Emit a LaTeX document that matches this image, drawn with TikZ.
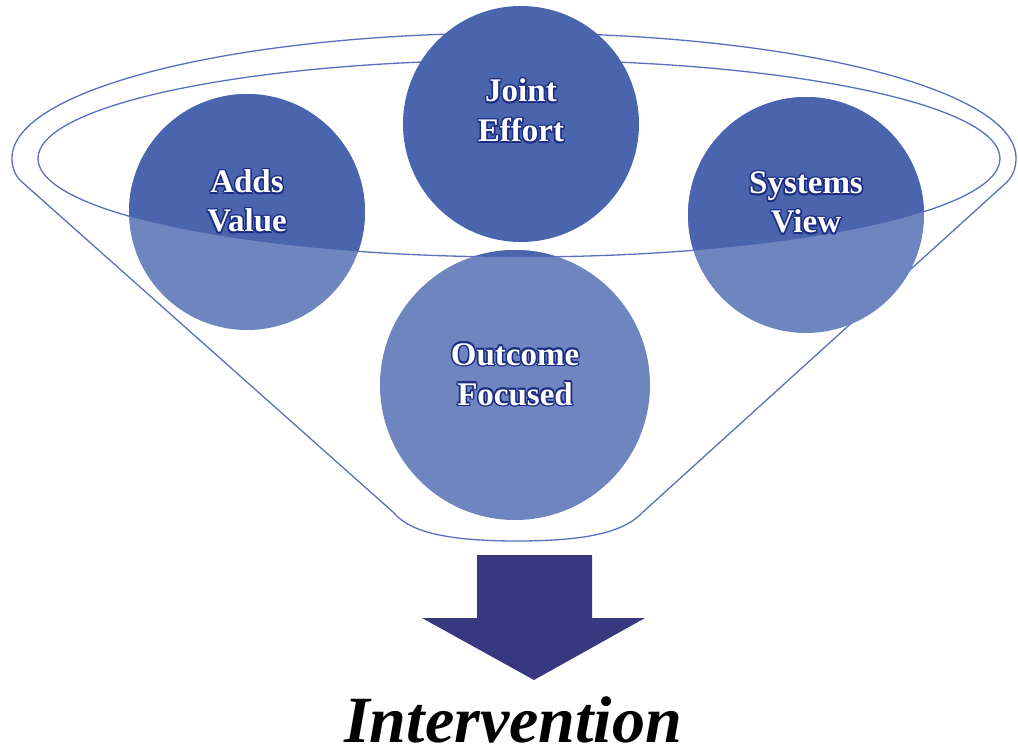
\documentclass[tikz,border=0pt]{standalone}
\usepackage{fontspec}
\setmainfont{Liberation Serif}
\definecolor{darkc}{HTML}{4A65AD}
\definecolor{lightc}{HTML}{6E85BF}
\definecolor{linec}{HTML}{5A6EBE}
\definecolor{arrowc}{HTML}{37387F}
\definecolor{glowc}{HTML}{1C2C82}
\newcommand\gcopy[3]{\makebox[0pt][l]{\hspace*{#1}\raisebox{#2}{\textcolor{glowc}{#3}}}}
\newcommand\glowtxt[1]{\gcopy{1.6pt}{0pt}{#1}\gcopy{-1.6pt}{0pt}{#1}\gcopy{0pt}{1.6pt}{#1}\gcopy{0pt}{-1.6pt}{#1}\gcopy{1.1pt}{1.1pt}{#1}\gcopy{-1.1pt}{1.1pt}{#1}\gcopy{1.1pt}{-1.1pt}{#1}\gcopy{-1.1pt}{-1.1pt}{#1}#1}
\tikzset{
  ball/.style={circle, inner sep=0pt, minimum size=#1, draw=none},
  lbl/.style={anchor=base, text=white, font=\fontsize{33}{38}\selectfont\bfseries, inner sep=0pt},
  outline/.style={draw=linec, line width=1.3pt},
}
\begin{document}
\begin{tikzpicture}[x=1pt,y=-1pt]
\useasboundingbox (0,0) rectangle (1018,746);
% funnel outline
\draw[outline, line join=round]
  (393,512) -- (22,182) .. controls (14,175) and (12,166) .. (12,158)
  arc[start angle=180, end angle=0, x radius=502pt, y radius=125pt]
  .. controls (1016,166) and (1014,175) .. (1007,182)
  -- (643,512) .. controls (626,530) and (594,541) .. (517,541)
  .. controls (440,541) and (408,530) .. (393,512) -- cycle;
% inner rim
\draw[outline] (519,158.5) ellipse[x radius=481pt, y radius=98.5pt];
% circles (lower, lighter parts)
\node[ball=236pt, fill=lightc] (av) at (247,212) {};
\node[ball=236pt, fill=lightc] (sv) at (806,215) {};
\node[ball=270pt, fill=lightc] (of) at (515,385) {};
% darker parts inside the rim
\begin{scope}
  \clip (519,158.5) ellipse[x radius=481pt, y radius=98.5pt];
  \fill[darkc] (av.center) circle[radius=118pt];
  \fill[darkc] (sv.center) circle[radius=118pt];
  \fill[darkc] (of.center) circle[radius=135pt];
\end{scope}
\node[ball=236pt, fill=darkc] (je) at (521,124) {};
% labels
\node[lbl] (je1) at (521,102) {\glowtxt{Joint}};
\node[lbl] (je2) at (521,142) {\glowtxt{Effort}};
\node[lbl] (av1) at (247,193) {\glowtxt{Adds}};
\node[lbl] (av2) at (247,232) {\glowtxt{Value}};
\node[lbl] (sv1) at (806,194) {\glowtxt{Systems}};
\node[lbl] (sv2) at (806,233) {\glowtxt{View}};
\node[lbl] (of1) at (515,365) {\glowtxt{Outcome}};
\node[lbl] (of2) at (515,405) {\glowtxt{Focused}};
% arrow
\fill[arrowc] (477,555) -- (592,555) -- (592,618) -- (645,618) -- (534,680)
  -- (422,618) -- (477,618) -- cycle;
\node[anchor=base, inner sep=0pt, font=\fontsize{66}{70}\selectfont\bfseries\itshape] (iv) at (513,742) {Intervention};
\end{tikzpicture}
\end{document}
